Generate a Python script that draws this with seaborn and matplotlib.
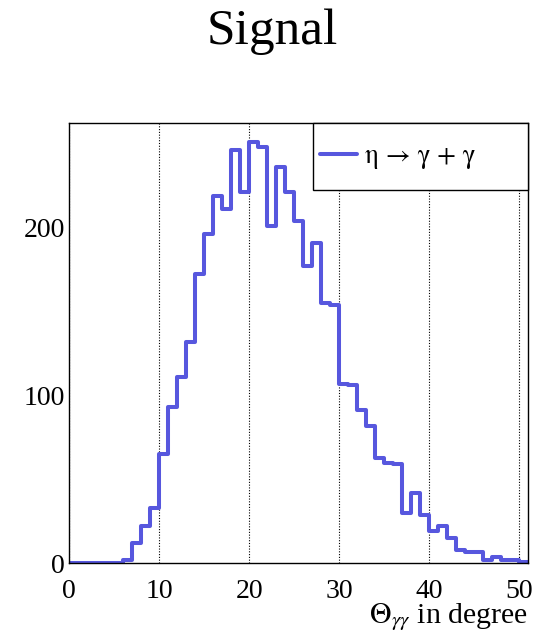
import numpy as np
import pandas as pd
import seaborn as sns
import matplotlib
matplotlib.use("Agg")
import matplotlib.pyplot as plt
from matplotlib.patches import Rectangle
from matplotlib.ticker import MultipleLocator

# Opening-angle histogram, one-degree bins from 0 to 51
bin_left = list(range(0, 51))
counts = [0, 0, 0, 0, 0, 0, 2, 12, 22, 33,
          65, 93, 111, 132, 172, 196, 219, 211, 246, 221,
          251, 248, 201, 236, 221, 204, 177, 191, 155, 154,
          107, 106, 91, 82, 63, 60, 59, 30, 42, 29,
          19, 22, 15, 8, 7, 7, 2, 4, 2, 2, 1]
x_ticks = [0, 10, 20, 30, 40, 50]
y_ticks = [0, 100, 200]
title = "Signal"
series_label = "η → γ + γ"
x_label = r"$\Theta_{\gamma\gamma}$ in degree"

sns.set_theme(style="white")
plt.rcParams["font.family"] = ["Liberation Serif", "DejaVu Serif"]
plt.rcParams["mathtext.fontset"] = "stix"
plt.rcParams["text.color"] = "black"
plt.rcParams["axes.labelcolor"] = "black"

df = pd.DataFrame({"angle": np.array(bin_left) + 0.5, "n": counts})

fig = plt.figure(figsize=(5.34, 6.37), dpi=100)
ax = fig.add_axes([0.1298, 0.1157, 0.8595, 0.6907])

line_color = "#5757DE"
sns.histplot(data=df, x="angle", weights="n", binwidth=1, binrange=(0, 51),
             element="step", fill=False, color=line_color, linewidth=2.9,
             ax=ax)

ax.set_xlim(0, 51)
ax.set_ylim(0, 262)

ax.set_xticks(x_ticks)
ax.set_yticks(y_ticks)
ax.xaxis.set_minor_locator(MultipleLocator(2))
ax.yaxis.set_minor_locator(MultipleLocator(20))
ax.tick_params(axis="both", which="both", direction="in", colors="black",
               top=False, right=False, labelsize=20)
ax.tick_params(axis="x", which="major", length=9, width=1, pad=11)
ax.tick_params(axis="x", which="minor", length=5, width=1)
ax.tick_params(axis="y", which="major", length=8, width=1, pad=3)
ax.tick_params(axis="y", which="minor", length=5, width=1)

for s in ax.spines.values():
    s.set_color("black")
    s.set_linewidth(1.0)

# dotted vertical grid at the major x ticks
ax.xaxis.grid(True, which="major", linestyle=(0, (1, 1.5)), color="black",
              linewidth=0.8)
ax.yaxis.grid(False)
ax.set_axisbelow(True)

ax.set_ylabel("")
ax.set_xlabel(x_label, fontsize=21.5, loc="right", labelpad=-1.5)

# legend box in the top-right corner of the frame
box = Rectangle((0.531, 0.848), 0.469, 0.152, transform=ax.transAxes,
                facecolor="white", edgecolor="black", linewidth=1.0,
                zorder=4.5, clip_on=False)
ax.add_patch(box)
handle = plt.Line2D([], [], color=line_color, linewidth=2.9)
leg = ax.legend([handle], [series_label], loc="center left",
                bbox_to_anchor=((320 - 69.3) / 459, 0.924),
                prop={"family": ["STIXGeneral", "DejaVu Serif"], "size": 19.5},
                frameon=False, borderaxespad=0, borderpad=0,
                handlelength=1.35, handletextpad=0.3)
leg.set_zorder(5)

fig.text(272 / 534, 1 - 32 / 637, title, ha="center", va="center",
         fontsize=37)

fig.savefig("out.png", dpi=100, facecolor="white")
